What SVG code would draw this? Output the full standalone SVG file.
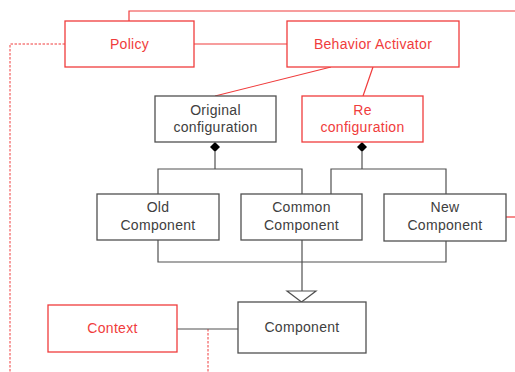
<svg xmlns="http://www.w3.org/2000/svg" width="515" height="372" viewBox="0 0 515 372">
  <style>
    .red { fill: #fff; stroke: #f03c3c; stroke-width: 1.3; }
    .blk { fill: #fff; stroke: #505050; stroke-width: 1.3; }
    .lr { fill: none; stroke: #f03c3c; stroke-width: 1.2; }
    .lrd { fill: none; stroke: #f03c3c; stroke-width: 1; stroke-dasharray: 2.5 1.5; }
    .lb { fill: none; stroke: #505050; stroke-width: 1.2; }
    text { font-family: "Liberation Sans", Arial, sans-serif; font-size: 14px; letter-spacing: 0.3px; text-anchor: middle; }
    .tr { fill: #f03c3c; }
    .tb { fill: #404040; }
  </style>
  <rect width="515" height="372" fill="#fff"/>

  <g id="connectors">
    <!-- red associations -->
    <polyline class="lr" points="129,21 129,11 515,11"/>
    <line class="lr" x1="194" y1="44" x2="287" y2="44"/>
    <line class="lr" x1="331" y1="67" x2="215" y2="96"/>
    <line class="lr" x1="373" y1="67" x2="363" y2="96"/>
    <line class="lr" x1="506" y1="217" x2="515" y2="217"/>
    <!-- dashed red -->
    <polyline class="lrd" points="65,44 10,44 10,372"/>
    <line class="lrd" x1="208" y1="329" x2="208" y2="372"/>
    <!-- composition: Original configuration -->
    <polyline class="lb" points="215,152 215,169"/>
    <polyline class="lb" points="158,194 158,169 302,169 302,194"/>
    <polygon points="215,142 220,147 215,152 210,147" fill="#000"/>
    <!-- composition: Re configuration -->
    <polyline class="lb" points="362,152 362,169"/>
    <polyline class="lb" points="331,194 331,169 446,169 446,194"/>
    <polygon points="362,142 367,147 362,152 357,147" fill="#000"/>
    <!-- generalization -->
    <polyline class="lb" points="158,240 158,262 446,262 446,241"/>
    <line class="lb" x1="302" y1="240" x2="302" y2="291"/>
    <polygon points="287,291 316,291 301.5,302" fill="#fff" stroke="#505050" stroke-width="1.2"/>
    <!-- context association -->
    <line class="lb" x1="177" y1="329" x2="238" y2="329"/>
  </g>

  <g id="policy">
    <rect class="red" x="65" y="21" width="129" height="46"/>
    <text class="tr" x="129.5" y="49">Policy</text>
  </g>
  <g id="behavior-activator">
    <rect class="red" x="287" y="21" width="172" height="46"/>
    <text class="tr" x="373" y="49">Behavior Activator</text>
  </g>
  <g id="original-configuration">
    <rect class="blk" x="155" y="96" width="121" height="46"/>
    <text class="tb" x="215.5" y="115">Original</text>
    <text class="tb" x="215.5" y="132">configuration</text>
  </g>
  <g id="re-configuration">
    <rect class="red" x="302" y="96" width="121" height="46"/>
    <text class="tr" x="362.5" y="115">Re</text>
    <text class="tr" x="362.5" y="132">configuration</text>
  </g>
  <g id="old-component">
    <rect class="blk" x="97" y="194" width="122" height="46"/>
    <text class="tb" x="158" y="212">Old</text>
    <text class="tb" x="158" y="230">Component</text>
  </g>
  <g id="common-component">
    <rect class="blk" x="241" y="194" width="121" height="46"/>
    <text class="tb" x="301.5" y="212">Common</text>
    <text class="tb" x="301.5" y="230">Component</text>
  </g>
  <g id="new-component">
    <rect class="blk" x="384" y="194" width="122" height="47"/>
    <text class="tb" x="445" y="212">New</text>
    <text class="tb" x="445" y="230">Component</text>
  </g>
  <g id="component">
    <rect class="blk" x="238" y="302" width="128" height="51"/>
    <text class="tb" x="302" y="332">Component</text>
  </g>
  <g id="context">
    <rect class="red" x="48" y="305" width="129" height="47"/>
    <text class="tr" x="112.5" y="333">Context</text>
  </g>
</svg>
